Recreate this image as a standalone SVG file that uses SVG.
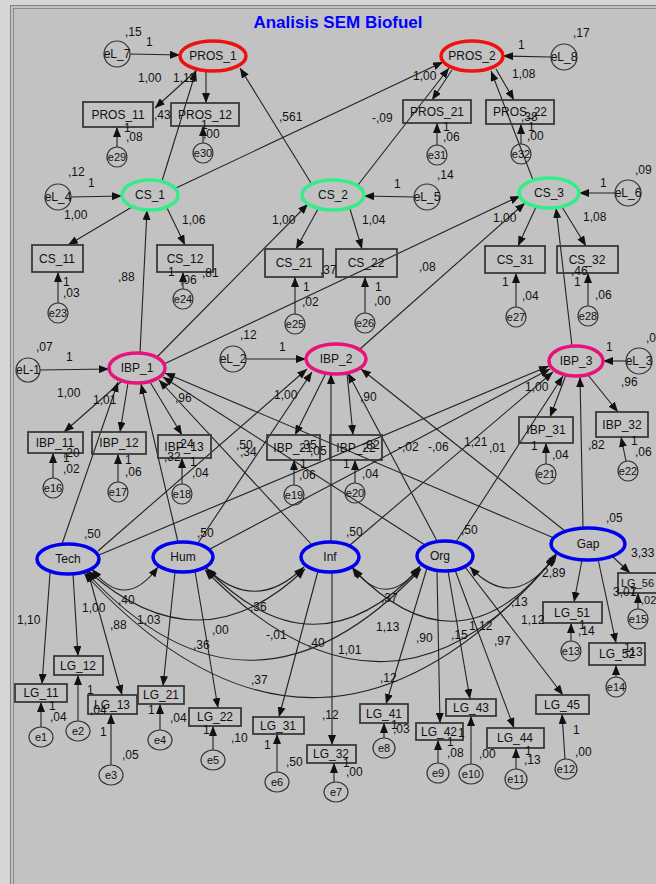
<svg xmlns="http://www.w3.org/2000/svg" width="656" height="884" viewBox="0 0 656 884">
<defs>
<marker id="ah" markerUnits="userSpaceOnUse" markerWidth="10" markerHeight="8" refX="10" refY="4" orient="auto-start-reverse"><path d="M0,0 L10,4 L0,8 z" fill="#111"/></marker>
<style>
.lat{fill:none;stroke-width:3.5}
.red{stroke:#ee1111}.grn{stroke:#33ee88}.pnk{stroke:#e8137a}.blu{stroke:#0000ee}
.err{fill:none;stroke:#333;stroke-width:1.2}
.obs{fill:none;stroke:#3a3a3a;stroke-width:1.8}
text{font-family:"Liberation Sans",Arial,sans-serif;font-size:12px;fill:#111}
.m{text-anchor:middle}
.s{font-size:11px}
#conn line,#conn path{stroke:#222;stroke-width:1.1;fill:none;marker-end:url(#ah)}
#conn path.cov{marker-start:url(#ah)}
</style>
</defs>
<rect x="0" y="0" width="656" height="884" fill="#d6d6d6"/>
<rect x="10" y="5" width="646" height="879" fill="#c2c2c2"/>
<line x1="10.5" y1="5" x2="10.5" y2="884" stroke="#808080"/>
<line x1="13.5" y1="8" x2="13.5" y2="884" stroke="#8a8a8a"/>
<line x1="10" y1="5.5" x2="656" y2="5.5" stroke="#808080"/>
<line x1="13" y1="8.5" x2="656" y2="8.5" stroke="#8a8a8a"/>
<text x="338" y="28" class="m" style="font-size:17px;font-weight:bold;fill:#0000ff">Analisis SEM Biofuel</text>

<g id="conn">
<line x1="130" y1="54" x2="180" y2="55"/>
<line x1="551" y1="57" x2="503" y2="56"/>
<line x1="198" y1="69" x2="155" y2="108"/>
<line x1="206" y1="71" x2="206" y2="103"/>
<line x1="162" y1="181" x2="196" y2="71"/>
<line x1="176" y1="188" x2="443" y2="62"/>
<line x1="311" y1="183" x2="240" y2="68"/>
<line x1="358" y1="185" x2="449" y2="68"/>
<line x1="533" y1="180" x2="491" y2="71"/>
<line x1="452" y1="70" x2="432" y2="100"/>
<line x1="496" y1="69" x2="514" y2="100"/>
<line x1="117" y1="147" x2="117" y2="127"/>
<line x1="203" y1="143" x2="203" y2="126"/>
<line x1="437" y1="145" x2="437" y2="123"/>
<line x1="521" y1="144" x2="521" y2="124"/>
<line x1="71" y1="197" x2="122" y2="196"/>
<line x1="414" y1="197" x2="364" y2="196"/>
<line x1="615" y1="193" x2="579" y2="193"/>
<line x1="132" y1="207" x2="68" y2="245"/>
<line x1="167" y1="208" x2="185" y2="245"/>
<line x1="58" y1="303" x2="58" y2="272"/>
<line x1="183" y1="289" x2="183" y2="272"/>
<line x1="140" y1="353" x2="147" y2="210"/>
<line x1="318" y1="209" x2="296" y2="249"/>
<line x1="350" y1="209" x2="362" y2="249"/>
<line x1="295" y1="314" x2="295" y2="277"/>
<line x1="365" y1="313" x2="365" y2="277"/>
<line x1="157" y1="357" x2="308" y2="204"/>
<line x1="164" y1="364" x2="520" y2="196"/>
<line x1="360" y1="349" x2="525" y2="203"/>
<line x1="536" y1="207" x2="518" y2="246"/>
<line x1="562" y1="207" x2="586" y2="246"/>
<line x1="516" y1="307" x2="516" y2="273"/>
<line x1="588" y1="306" x2="588" y2="273"/>
<line x1="572" y1="346" x2="556" y2="208"/>
<line x1="40" y1="370" x2="109" y2="369"/>
<line x1="246" y1="359" x2="306" y2="359"/>
<line x1="626" y1="361" x2="603" y2="361"/>
<line x1="122" y1="381" x2="64" y2="432"/>
<line x1="128" y1="383" x2="120" y2="432"/>
<line x1="150" y1="382" x2="182" y2="435"/>
<line x1="53" y1="478" x2="53" y2="453"/>
<line x1="118" y1="482" x2="118" y2="454"/>
<line x1="182" y1="484" x2="182" y2="458"/>
<line x1="326" y1="373" x2="295" y2="435"/>
<line x1="347" y1="373" x2="353" y2="435"/>
<line x1="294" y1="485" x2="294" y2="460"/>
<line x1="355" y1="483" x2="355" y2="460"/>
<line x1="566" y1="375" x2="550" y2="417"/>
<line x1="588" y1="375" x2="618" y2="412"/>
<line x1="546" y1="464" x2="546" y2="443"/>
<line x1="626" y1="461" x2="621" y2="437"/>
<line x1="62" y1="544" x2="118" y2="382"/>
<line x1="98" y1="551" x2="307" y2="369"/>
<line x1="99" y1="555" x2="549" y2="366"/>
<line x1="178" y1="542" x2="141" y2="384"/>
<line x1="198" y1="543" x2="312" y2="372"/>
<line x1="210" y1="549" x2="550" y2="369"/>
<line x1="312" y1="545" x2="159" y2="380"/>
<line x1="331" y1="542" x2="331" y2="374"/>
<line x1="350" y1="545" x2="553" y2="372"/>
<line x1="425" y1="545" x2="163" y2="377"/>
<line x1="437" y1="541" x2="348" y2="373"/>
<line x1="456" y1="542" x2="563" y2="376"/>
<line x1="554" y1="538" x2="165" y2="373"/>
<line x1="565" y1="531" x2="361" y2="369"/>
<line x1="583" y1="528" x2="580" y2="377"/>
<line x1="50" y1="573" x2="42" y2="684"/>
<line x1="73" y1="574" x2="78" y2="656"/>
<line x1="88" y1="572" x2="122" y2="695"/>
<line x1="175" y1="572" x2="163" y2="686"/>
<line x1="195" y1="571" x2="218" y2="708"/>
<line x1="318" y1="571" x2="279" y2="717"/>
<line x1="332" y1="572" x2="332" y2="745"/>
<line x1="427" y1="568" x2="386" y2="704"/>
<line x1="437" y1="571" x2="440" y2="723"/>
<line x1="448" y1="571" x2="470" y2="699"/>
<line x1="455" y1="570" x2="514" y2="728"/>
<line x1="465" y1="567" x2="563" y2="695"/>
<line x1="582" y1="560" x2="574" y2="602"/>
<line x1="598" y1="559" x2="616" y2="643"/>
<line x1="612" y1="556" x2="630" y2="573"/>
<line x1="41" y1="727" x2="41" y2="702"/>
<line x1="78" y1="721" x2="78" y2="675"/>
<line x1="111" y1="765" x2="111" y2="714"/>
<line x1="160" y1="730" x2="160" y2="704"/>
<line x1="213" y1="750" x2="213" y2="726"/>
<line x1="277" y1="772" x2="277" y2="734"/>
<line x1="334" y1="782" x2="334" y2="763"/>
<line x1="384" y1="738" x2="384" y2="723"/>
<line x1="438" y1="763" x2="438" y2="740"/>
<line x1="471" y1="764" x2="471" y2="716"/>
<line x1="516" y1="769" x2="516" y2="748"/>
<line x1="565" y1="759" x2="562" y2="714"/>
<line x1="571" y1="641" x2="571" y2="623"/>
<line x1="616" y1="677" x2="616" y2="665"/>
<line x1="638" y1="609" x2="638" y2="593"/>
<path class="cov" d="M92,569 Q125,612 158,567"/>
<path class="cov" d="M206,568 Q255,615 304,567"/>
<path class="cov" d="M352,567 Q386,612 420,566"/>
<path class="cov" d="M470,567 Q515,615 557,553"/>
<path class="cov" d="M88,571 Q200,670 305,569"/>
<path class="cov" d="M207,569 Q315,680 420,568"/>
<path class="cov" d="M353,569 Q460,680 556,555"/>
<path class="cov" d="M86,572 Q250,750 421,569"/>
<path class="cov" d="M205,570 Q390,760 556,556"/>
<path class="cov" d="M84,573 Q320,830 555,557"/>
</g>

<g id="PROS_1"><ellipse cx="213" cy="56" rx="33" ry="15" class="lat red"/><text x="213" y="60" class="m">PROS_1</text></g>
<g id="PROS_2"><ellipse cx="472" cy="56" rx="31" ry="15" class="lat red"/><text x="472" y="60" class="m">PROS_2</text></g>
<g id="CS_1"><ellipse cx="150" cy="195" rx="28" ry="15" class="lat grn"/><text x="150" y="199" class="m">CS_1</text></g>
<g id="CS_2"><ellipse cx="333" cy="195" rx="31" ry="15" class="lat grn"/><text x="333" y="199" class="m">CS_2</text></g>
<g id="CS_3"><ellipse cx="549" cy="193" rx="30" ry="15" class="lat grn"/><text x="549" y="197" class="m">CS_3</text></g>
<g id="IBP_1"><ellipse cx="137" cy="368" rx="28" ry="15" class="lat pnk"/><text x="137" y="372" class="m">IBP_1</text></g>
<g id="IBP_2"><ellipse cx="336" cy="359" rx="30" ry="15" class="lat pnk"/><text x="336" y="363" class="m">IBP_2</text></g>
<g id="IBP_3"><ellipse cx="576" cy="361" rx="27" ry="15" class="lat pnk"/><text x="576" y="365" class="m">IBP_3</text></g>
<g id="Tech"><ellipse cx="68" cy="559" rx="31" ry="15" class="lat blu"/><text x="68" y="563" class="m">Tech</text></g>
<g id="Hum"><ellipse cx="183" cy="557" rx="30" ry="15" class="lat blu"/><text x="183" y="561" class="m">Hum</text></g>
<g id="Inf"><ellipse cx="330" cy="557" rx="29" ry="15" class="lat blu"/><text x="330" y="561" class="m">Inf</text></g>
<g id="Org"><ellipse cx="445" cy="556" rx="28" ry="15" class="lat blu"/><text x="440" y="560" class="m">Org</text></g>
<g id="Gap"><ellipse cx="588" cy="544" rx="37" ry="16" class="lat blu"/><text x="588" y="548" class="m">Gap</text></g>

<g id="eL_7"><circle cx="117" cy="54" r="13" class="err"/><text x="117" y="58" class="m">eL_7</text></g>
<g id="eL_8"><circle cx="564" cy="57" r="13" class="err"/><text x="564" y="61" class="m">eL_8</text></g>
<g id="eL_4"><circle cx="58" cy="197" r="13" class="err"/><text x="58" y="201" class="m">eL_4</text></g>
<g id="eL_5"><circle cx="427" cy="197" r="13" class="err"/><text x="427" y="201" class="m">eL_5</text></g>
<g id="eL_6"><circle cx="628" cy="193" r="13" class="err"/><text x="628" y="197" class="m">eL_6</text></g>
<g id="eL-1"><circle cx="28" cy="370" r="12" class="err"/><text x="28" y="374" class="m">eL-1</text></g>
<g id="eL_2"><circle cx="233" cy="359" r="13" class="err"/><text x="233" y="363" class="m">eL_2</text></g>
<g id="eL_3"><circle cx="639" cy="361" r="13" class="err"/><text x="639" y="365" class="m">eL_3</text></g>
<g id="e29"><circle cx="117" cy="157" r="10" class="err"/><text x="117" y="161" class="m s">e29</text></g>
<g id="e30"><circle cx="203" cy="153" r="10" class="err"/><text x="203" y="157" class="m s">e30</text></g>
<g id="e31"><circle cx="437" cy="155" r="10" class="err"/><text x="437" y="159" class="m s">e31</text></g>
<g id="e32"><circle cx="521" cy="154" r="10" class="err"/><text x="521" y="158" class="m s">e32</text></g>
<g id="e23"><circle cx="58" cy="313" r="10" class="err"/><text x="58" y="317" class="m s">e23</text></g>
<g id="e24"><circle cx="183" cy="299" r="10" class="err"/><text x="183" y="303" class="m s">e24</text></g>
<g id="e25"><circle cx="295" cy="324" r="10" class="err"/><text x="295" y="328" class="m s">e25</text></g>
<g id="e26"><circle cx="365" cy="323" r="10" class="err"/><text x="365" y="327" class="m s">e26</text></g>
<g id="e27"><circle cx="516" cy="317" r="10" class="err"/><text x="516" y="321" class="m s">e27</text></g>
<g id="e28"><circle cx="588" cy="316" r="10" class="err"/><text x="588" y="320" class="m s">e28</text></g>
<g id="e16"><circle cx="53" cy="488" r="10" class="err"/><text x="53" y="492" class="m s">e16</text></g>
<g id="e17"><circle cx="118" cy="492" r="10" class="err"/><text x="118" y="496" class="m s">e17</text></g>
<g id="e18"><circle cx="182" cy="494" r="10" class="err"/><text x="182" y="498" class="m s">e18</text></g>
<g id="e19"><circle cx="294" cy="495" r="10" class="err"/><text x="294" y="499" class="m s">e19</text></g>
<g id="e20"><circle cx="355" cy="493" r="10" class="err"/><text x="355" y="497" class="m s">e20</text></g>
<g id="e21"><circle cx="546" cy="474" r="10" class="err"/><text x="546" y="478" class="m s">e21</text></g>
<g id="e22"><circle cx="628" cy="471" r="10" class="err"/><text x="628" y="475" class="m s">e22</text></g>
<g id="e1"><ellipse cx="41" cy="737" rx="12" ry="10" class="err"/><text x="41" y="741" class="m s">e1</text></g>
<g id="e2"><ellipse cx="78" cy="731" rx="12" ry="10" class="err"/><text x="78" y="735" class="m s">e2</text></g>
<g id="e3"><ellipse cx="111" cy="775" rx="12" ry="10" class="err"/><text x="111" y="779" class="m s">e3</text></g>
<g id="e4"><ellipse cx="160" cy="740" rx="12" ry="10" class="err"/><text x="160" y="744" class="m s">e4</text></g>
<g id="e5"><ellipse cx="213" cy="760" rx="12" ry="10" class="err"/><text x="213" y="764" class="m s">e5</text></g>
<g id="e6"><ellipse cx="277" cy="782" rx="12" ry="10" class="err"/><text x="277" y="786" class="m s">e6</text></g>
<g id="e7"><ellipse cx="336" cy="792" rx="12" ry="10" class="err"/><text x="336" y="796" class="m s">e7</text></g>
<g id="e8"><ellipse cx="384" cy="748" rx="11" ry="10" class="err"/><text x="384" y="752" class="m s">e8</text></g>
<g id="e9"><ellipse cx="438" cy="773" rx="11" ry="10" class="err"/><text x="438" y="777" class="m s">e9</text></g>
<g id="e10"><ellipse cx="471" cy="774" rx="12" ry="10" class="err"/><text x="471" y="778" class="m s">e10</text></g>
<g id="e11"><ellipse cx="516" cy="779" rx="11" ry="10" class="err"/><text x="516" y="783" class="m s">e11</text></g>
<g id="e12"><ellipse cx="566" cy="769" rx="11" ry="10" class="err"/><text x="566" y="773" class="m s">e12</text></g>
<g id="e13"><circle cx="571" cy="651" r="10" class="err"/><text x="571" y="655" class="m s">e13</text></g>
<g id="e14"><circle cx="616" cy="687" r="10" class="err"/><text x="616" y="691" class="m s">e14</text></g>
<g id="e15"><circle cx="638" cy="619" r="10" class="err"/><text x="638" y="623" class="m s">e15</text></g>

<g id="PROS_11"><rect x="83" y="102" width="70" height="25" class="obs"/><text x="118" y="119" class="m">PROS_11</text></g>
<g id="PROS_12"><rect x="171" y="103" width="68" height="23" class="obs"/><text x="205" y="119" class="m">PROS_12</text></g>
<g id="PROS_21"><rect x="403" y="100" width="68" height="23" class="obs"/><text x="437" y="116" class="m">PROS_21</text></g>
<g id="PROS_22"><rect x="486" y="100" width="68" height="24" class="obs"/><text x="520" y="116" class="m">PROS_22</text></g>
<g id="CS_11"><rect x="32" y="245" width="51" height="27" class="obs"/><text x="57" y="263" class="m">CS_11</text></g>
<g id="CS_12"><rect x="157" y="245" width="56" height="27" class="obs"/><text x="185" y="263" class="m">CS_12</text></g>
<g id="CS_21"><rect x="265" y="249" width="58" height="28" class="obs"/><text x="294" y="267" class="m">CS_21</text></g>
<g id="CS_22"><rect x="336" y="249" width="61" height="28" class="obs"/><text x="366" y="267" class="m">CS_22</text></g>
<g id="CS_31"><rect x="485" y="246" width="60" height="27" class="obs"/><text x="515" y="264" class="m">CS_31</text></g>
<g id="CS_32"><rect x="557" y="246" width="61" height="27" class="obs"/><text x="587" y="264" class="m">CS_32</text></g>
<g id="IBP_11"><rect x="28" y="432" width="55" height="21" class="obs"/><text x="55" y="447" class="m">IBP_11</text></g>
<g id="IBP_12"><rect x="92" y="432" width="54" height="22" class="obs"/><text x="119" y="447" class="m">IBP_12</text></g>
<g id="IBP_13"><rect x="158" y="435" width="53" height="23" class="obs"/><text x="184" y="451" class="m">IBP_13</text></g>
<g id="IBP_21"><rect x="267" y="435" width="53" height="25" class="obs"/><text x="293" y="452" class="m">IBP_21</text></g>
<g id="IBP_22"><rect x="330" y="435" width="52" height="25" class="obs"/><text x="356" y="452" class="m">IBP_22</text></g>
<g id="IBP_31"><rect x="519" y="417" width="54" height="26" class="obs"/><text x="546" y="434" class="m">IBP_31</text></g>
<g id="IBP_32"><rect x="596" y="412" width="52" height="25" class="obs"/><text x="622" y="429" class="m">IBP_32</text></g>
<g id="LG_11"><rect x="15" y="684" width="52" height="18" class="obs"/><text x="41" y="697" class="m">LG_11</text></g>
<g id="LG_12"><rect x="54" y="656" width="49" height="19" class="obs"/><text x="78" y="670" class="m">LG_12</text></g>
<g id="LG_13"><rect x="88" y="695" width="49" height="19" class="obs"/><text x="112" y="709" class="m">LG_13</text></g>
<g id="LG_21"><rect x="138" y="686" width="46" height="18" class="obs"/><text x="161" y="699" class="m">LG_21</text></g>
<g id="LG_22"><rect x="189" y="708" width="52" height="18" class="obs"/><text x="215" y="721" class="m">LG_22</text></g>
<g id="LG_31"><rect x="253" y="717" width="51" height="17" class="obs"/><text x="278" y="730" class="m">LG_31</text></g>
<g id="LG_32"><rect x="307" y="745" width="49" height="18" class="obs"/><text x="331" y="758" class="m">LG_32</text></g>
<g id="LG_41"><rect x="360" y="704" width="48" height="19" class="obs"/><text x="384" y="718" class="m">LG_41</text></g>
<g id="LG_42"><rect x="416" y="723" width="47" height="17" class="obs"/><text x="439" y="736" class="m">LG_42</text></g>
<g id="LG_43"><rect x="446" y="699" width="50" height="17" class="obs"/><text x="471" y="712" class="m">LG_43</text></g>
<g id="LG_44"><rect x="487" y="728" width="57" height="20" class="obs"/><text x="515" y="742" class="m">LG_44</text></g>
<g id="LG_45"><rect x="536" y="695" width="53" height="19" class="obs"/><text x="562" y="709" class="m">LG_45</text></g>
<g id="LG_51"><rect x="543" y="602" width="59" height="21" class="obs"/><text x="572" y="617" class="m">LG_51</text></g>
<g id="LG_52"><rect x="589" y="643" width="56" height="22" class="obs"/><text x="617" y="658" class="m">LG_52</text></g>
<g id="LG_56"><rect x="618" y="573" width="45" height="20" class="obs"/><text x="621" y="587" class="s">LG_56</text></g>

<g id="labels">
<text x="125" y="36">,15</text><text x="146" y="46">1</text>
<text x="573" y="37">,17</text><text x="518" y="49">1</text>
<text x="138" y="82">1,00</text><text x="173" y="82">1,11</text>
<text x="154" y="119">,43</text>
<text x="124" y="132">1</text><text x="126" y="141">,08</text>
<text x="201" y="129">1</text><text x="203" y="138">,00</text>
<text x="279" y="121">,561</text><text x="372" y="122">-,09</text>
<text x="413" y="80">1,00</text><text x="512" y="78">1,08</text>
<text x="443" y="131">1</text><text x="443" y="141">,06</text>
<text x="521" y="121">,38</text><text x="528" y="131">1</text><text x="527" y="140">,00</text>
<text x="68" y="176">,12</text><text x="88" y="187">1</text>
<text x="437" y="179">,14</text><text x="394" y="188">1</text>
<text x="635" y="174">,09</text><text x="600" y="187">1</text>
<text x="64" y="219">1,00</text><text x="182" y="224">1,06</text>
<text x="118" y="281">,88</text>
<text x="63" y="286">1</text><text x="63" y="297">,03</text>
<text x="168" y="276">1</text><text x="180" y="284">,06</text><text x="202" y="277">,81</text>
<text x="272" y="224">1,00</text><text x="362" y="224">1,04</text>
<text x="320" y="274">,37</text>
<text x="303" y="291">1</text><text x="302" y="306">,02</text>
<text x="375" y="291">1</text><text x="374" y="305">,00</text>
<text x="419" y="271">,08</text>
<text x="240" y="339">,12</text><text x="279" y="351">1</text>
<text x="493" y="222">1,00</text><text x="583" y="221">1,08</text>
<text x="502" y="286">1</text><text x="522" y="300">,04</text>
<text x="571" y="275">,46</text><text x="574" y="286">1</text><text x="595" y="299">,06</text>
<text x="36" y="351">,07</text><text x="66" y="361">1</text>
<text x="646" y="342">,0</text><text x="606" y="351">1</text>
<text x="621" y="386">,96</text><text x="525" y="391">1,00</text>
<text x="57" y="397">1,00</text><text x="93" y="404">1,01</text><text x="175" y="402">,96</text>
<text x="63" y="457">,20</text><text x="63" y="462">1</text><text x="63" y="473">,02</text>
<text x="125" y="464">1</text><text x="125" y="476">,06</text>
<text x="177" y="448">,24</text>
<text x="164" y="461">,32</text><text x="190" y="466">1</text><text x="192" y="477">,04</text>
<text x="236" y="449">,50</text><text x="240" y="456">,34</text>
<text x="300" y="449">,35</text><text x="306" y="455">-,05</text>
<text x="363" y="449">,82</text>
<text x="398" y="451">-,02</text><text x="428" y="451">-,06</text>
<text x="300" y="468">1</text><text x="299" y="479">,06</text>
<text x="343" y="468">1</text><text x="362" y="478">,04</text>
<text x="274" y="399">1,00</text><text x="360" y="401">,90</text>
<text x="464" y="446">1,21</text><text x="489" y="452">,01</text>
<text x="531" y="450">1</text><text x="552" y="459">,04</text>
<text x="588" y="449">,82</text>
<text x="631" y="445">1</text><text x="635" y="456">,06</text>
<text x="84" y="538">,50</text><text x="197" y="537">,50</text><text x="346" y="536">,50</text><text x="461" y="534">,50</text>
<text x="606" y="522">,05</text>
<text x="631" y="557">3,33</text><text x="542" y="577">2,89</text>
<text x="613" y="596">3,07</text><text x="630" y="596">1</text><text x="641" y="604" class="s">,02</text>
<text x="118" y="604">,40</text><text x="250" y="611">,36</text><text x="381" y="602">,37</text><text x="511" y="606">,13</text>
<text x="17" y="624">1,10</text><text x="82" y="612">1,00</text><text x="110" y="629">,88</text><text x="137" y="624">1,03</text>
<text x="212" y="634">,00</text><text x="193" y="649">,36</text>
<text x="266" y="639">-,01</text><text x="308" y="647">,40</text><text x="338" y="654">1,01</text>
<text x="376" y="631">1,13</text><text x="416" y="642">,90</text>
<text x="451" y="639">,15</text><text x="469" y="630">1,12</text><text x="494" y="645">,97</text><text x="521" y="624">1,12</text>
<text x="251" y="684">,37</text><text x="380" y="682">,12</text><text x="322" y="719">,12</text>
<text x="49" y="710">1</text><text x="50" y="721">,04</text>
<text x="87" y="694">1</text><text x="90" y="714">,04</text>
<text x="100" y="736">1</text><text x="122" y="759">,05</text>
<text x="148" y="714">1</text><text x="170" y="722">,04</text>
<text x="203" y="734">1</text><text x="231" y="742">,10</text>
<text x="264" y="749">1</text><text x="286" y="766">,50</text>
<text x="343" y="767">1</text><text x="346" y="776">,00</text>
<text x="391" y="729">1</text><text x="393" y="733">,03</text>
<text x="579" y="629">1</text><text x="578" y="635">,14</text>
<text x="624" y="652">1</text><text x="626" y="656">,13</text>
<text x="458" y="737">1</text><text x="447" y="746">1</text><text x="447" y="757">,08</text>
<text x="479" y="758">,00</text>
<text x="525" y="755">1</text><text x="524" y="764">,13</text>
<text x="573" y="734">1</text><text x="575" y="756">,00</text>
</g>
</svg>
